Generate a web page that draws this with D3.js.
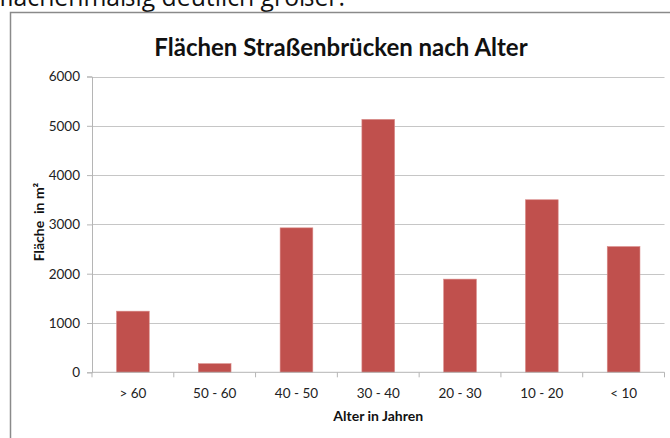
<!DOCTYPE html>
<html>
<head>
<meta charset="utf-8">
<script src="https://cdn.jsdelivr.net/npm/d3@7"></script>
<style>
  body { margin: 0; background: #fff; }
  svg { display: block; }
</style>
</head>
<body>
<svg width="670" height="438"></svg>
<script>
// Daten: Fläche der Straßenbrücken je Altersklasse
const categories = ['> 60', '50 - 60', '40 - 50', '30 - 40', '20 - 30', '10 - 20', '< 10'];
const areas = [1240, 175, 2930, 5130, 1890, 3500, 2550];
const yTicks = [0, 1000, 2000, 3000, 4000, 5000, 6000];

const width = 670, height = 438;
const plotLeft = 92, plotRight = 664.5, plotTop = 76.5, plotBottom = 372.3;
const barColor = '#c0504d';
const labelSize = 13.5;

const svg = d3.select('svg');

// Text oberhalb (abgeschnitten, wie im Original)
svg.append('text')
  .attr('x', -1)
  .attr('y', 6)
  .attr('font-family', 'Open Sans, sans-serif')
  .attr('font-size', 25)
  .attr('fill', '#111')
  .attr('textLength', 346)
  .attr('lengthAdjust', 'spacingAndGlyphs')
  .text('flächenmäßig deutlich größer.');

// Rahmen
svg.append('path')
  .attr('d', `M10.5,${height} V12.5 H${width}`)
  .attr('fill', 'none')
  .attr('stroke', '#8a8a8a')
  .attr('stroke-width', 1.5);

const x = d3.scaleBand()
  .domain(categories)
  .range([plotLeft, plotRight])
  .paddingInner(0.6)
  .paddingOuter(0.3);

const y = d3.scaleLinear()
  .domain([0, 6000])
  .range([plotBottom, plotTop]);

// Gitternetzlinien
svg.append('g')
  .selectAll('line')
  .data(yTicks.filter(d => d > 0))
  .join('line')
  .attr('x1', plotLeft)
  .attr('x2', plotRight)
  .attr('y1', d => Math.round(y(d)) + 0.5)
  .attr('y2', d => Math.round(y(d)) + 0.5)
  .attr('stroke', '#c6c6c6')
  .attr('stroke-width', 1.2);

// y-Achse
const axisY = svg.append('g')
  .attr('transform', `translate(${plotLeft},0)`)
  .call(d3.axisLeft(y).tickValues(yTicks).tickSize(5).tickPadding(7).tickFormat(d3.format('d')));
axisY.select('.domain').attr('stroke', '#b5b5b5');
axisY.selectAll('.tick line').attr('stroke', '#b5b5b5');
axisY.selectAll('text')
  .attr('font-family', 'Lato, sans-serif')
  .attr('font-size', labelSize)
  .attr('fill', '#222');

// Balken
svg.append('g')
  .selectAll('rect')
  .data(areas)
  .join('rect')
  .attr('x', (d, i) => x(categories[i]))
  .attr('y', d => y(d))
  .attr('width', x.bandwidth())
  .attr('height', d => plotBottom - y(d))
  .attr('fill', barColor)
  .attr('stroke', '#d98a88')
  .attr('stroke-width', 0.6);

// x-Achse
const step = (plotRight - plotLeft) / categories.length;
const axisX = svg.append('g')
  .attr('transform', `translate(0,${plotBottom})`);
axisX.append('line')
  .attr('x1', plotLeft).attr('x2', plotRight)
  .attr('stroke', '#b5b5b5');
axisX.selectAll('.tk')
  .data(d3.range(categories.length + 1))
  .join('line')
  .attr('class', 'tk')
  .attr('x1', i => plotLeft + i * step)
  .attr('x2', i => plotLeft + i * step)
  .attr('y1', 0).attr('y2', 5)
  .attr('stroke', '#b5b5b5');
axisX.selectAll('text')
  .data(categories)
  .join('text')
  .attr('x', d => x(d) + x.bandwidth() / 2)
  .attr('y', 26)
  .attr('text-anchor', 'middle')
  .attr('font-family', 'Lato, sans-serif')
  .attr('font-size', labelSize)
  .attr('fill', '#222')
  .text(d => d);

// Titel
svg.append('text')
  .attr('x', 341)
  .attr('y', 56)
  .attr('text-anchor', 'middle')
  .attr('font-family', 'Lato, sans-serif')
  .attr('font-weight', 'bold')
  .attr('font-size', 24)
  .attr('fill', '#111')
  .text('Flächen Straßenbrücken nach Alter');

// Achsentitel
svg.append('text')
  .attr('x', (plotLeft + plotRight) / 2)
  .attr('y', 421)
  .attr('text-anchor', 'middle')
  .attr('font-family', 'Lato, sans-serif')
  .attr('font-weight', 'bold')
  .attr('font-size', 14)
  .attr('fill', '#111')
  .text('Alter in Jahren');

svg.append('text')
  .attr('transform', 'translate(44,222) rotate(-90)')
  .attr('text-anchor', 'middle')
  .attr('font-family', 'Lato, sans-serif')
  .attr('font-weight', 'bold')
  .attr('font-size', 14)
  .attr('fill', '#111')
  .attr('xml:space', 'preserve')
  .text('Fläche  in m²');
</script>
</body>
</html>
